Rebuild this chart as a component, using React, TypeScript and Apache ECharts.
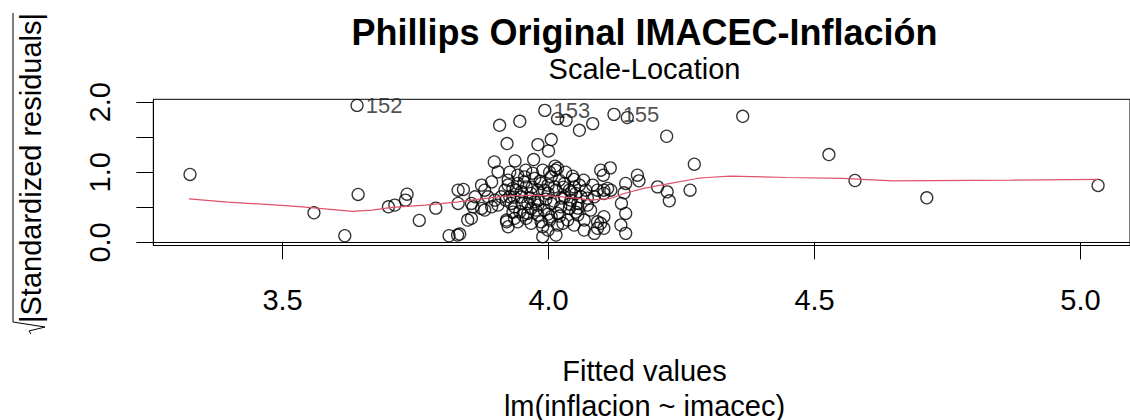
import React, { useEffect, useRef } from "react";
import * as echarts from "echarts";

const FONT = '"Liberation Sans", Arial, sans-serif';

const TITLE = "Phillips Original IMACEC-Inflación";
const SUBTITLE = "Scale-Location";
const X_TITLE = "Fitted values";
const X_SUBTITLE = "lm(inflacion ~ imacec)";
const Y_TITLE = "|Standardized residuals|";

const X_TICKS = [3.5, 4.0, 4.5, 5.0];
const Y_TICKS = [0, 0.5, 1.0, 1.5, 2.0];
const Y_LABELS = [0, 1.0, 2.0];

const FITTED = [
  3.326, 3.559, 3.642, 3.617, 3.699, 3.711, 3.734, 3.731, 3.757, 3.788, 3.813, 3.829, 3.830, 3.830,
  4.365, 4.274, 4.266, 4.527, 4.576, 4.711, 5.033,
  4.017, 4.033, 4.058, 4.083, 4.148, 4.222, 3.908, 3.946, 4.005, 3.980, 4.000, 3.922, 3.972, 3.937,
  3.898, 3.905, 4.012, 4.013, 4.098, 4.116, 4.103, 4.167, 4.170, 4.145, 4.205, 4.223, 4.227, 4.142,
  4.137, 4.145, 4.136, 4.145, 4.104, 4.066, 4.070, 4.048, 4.039, 4.073, 4.055, 4.048, 4.067, 4.086,
  4.098, 4.092, 4.104, 4.027, 4.014, 3.989, 3.989, 4.005, 3.980, 3.958, 3.924, 3.921, 3.848, 3.833,
  3.840, 3.855, 3.874, 3.880, 3.893, 3.893, 3.905, 3.874, 3.862, 3.924, 3.927, 3.933, 3.942, 3.955,
  3.974, 3.986, 3.992, 4.005, 4.011, 4.020, 4.030, 4.042, 4.023, 4.005, 3.980, 3.961, 3.949, 3.936,
  3.946, 3.967, 3.992, 4.017, 4.039, 3.936, 3.921, 3.967, 3.958, 3.918, 3.911, 3.899, 3.886, 4.092,
  4.104, 4.111, 4.117, 4.086, 4.061, 4.055, 4.079, 4.067, 4.036, 4.017, 3.999, 3.967, 3.942, 3.961,
  4.104, 4.092, 4.048, 4.030, 3.999, 3.980, 3.974, 3.949, 3.930, 4.051, 4.002, 3.986,
  3.927, 3.942, 3.957, 3.970, 3.989, 4.002, 4.017, 4.032, 4.045, 3.924, 3.939, 3.954, 3.969, 3.984,
  3.999, 4.014, 4.028, 4.043, 4.058, 3.920, 3.935, 3.950, 3.965, 3.980, 3.995, 4.010, 4.025, 4.040,
  4.055, 3.933, 3.952, 3.976, 3.999, 4.021, 4.051, 4.073, 4.083, 3.880, 3.855, 3.858,
];

const SQRT_STD_RESID = [
  0.969, 0.422, 0.684, 0.095, 0.508, 0.532, 0.688, 0.603, 0.314, 0.489, 0.095, 0.105, 0.745, 0.556,
  1.798, 1.115, 0.745, 1.253, 0.883, 0.636, 0.812,
  1.765, 1.741, 1.599, 1.694, 1.780, 1.514, 1.670, 1.727, 1.467, 1.395, 1.304, 1.410, 1.182, 1.162,
  1.148, 1.006, 1.087, 1.030, 1.030, 1.063, 0.959, 0.959, 0.878, 0.841, 0.792, 0.721, 0.593, 0.707,
  0.556, 0.414, 0.248, 0.129, 0.745, 0.888, 0.745, 0.898, 0.745, 0.532, 0.390, 0.248, 0.176, 0.129,
  0.272, 0.201, 0.201, 0.272, 0.105, 0.081, 0.223, 0.366, 0.390, 0.343, 0.223, 0.294, 0.319, 0.119,
  0.755, 0.556, 0.817, 0.745, 0.863, 0.508, 0.532, 0.485, 0.650, 0.888, 0.650, 0.770, 0.841, 0.935,
  0.912, 0.841, 0.745, 0.935, 0.792, 0.888, 0.650, 0.603, 0.508, 0.556, 0.603, 0.556, 0.650, 0.508,
  0.437, 0.485, 0.461, 0.414, 0.485, 0.343, 0.319, 0.698, 0.792, 0.745, 0.650, 0.603, 0.650, 0.745,
  0.698, 0.770, 0.745, 0.650, 0.650, 0.556, 0.461, 0.319, 0.319, 0.248, 0.176, 0.272, 0.294, 0.414,
  0.366, 0.294, 0.792, 0.841, 0.698, 0.745, 0.579, 0.721, 0.556, 0.698, 0.319, 0.294,
  1.001, 0.959, 1.030, 0.987, 1.030, 1.001, 1.058, 1.001, 0.945, 0.817, 0.745, 0.859, 0.788, 0.873,
  0.817, 0.745, 0.788, 0.717, 0.817, 0.603, 0.646, 0.560, 0.632, 0.532, 0.617, 0.589, 0.632, 0.546,
  0.489, 0.432, 0.390, 0.461, 0.404, 0.376, 0.432, 0.632, 0.817, 0.461, 0.343, 0.508,
];

const LABEL_IDS = ["152", "153", "155"];
const LABEL_FITTED = [3.640, 3.993, 4.123];
const LABEL_RESID = [1.954, 1.883, 1.826];

const SMOOTH_X = [
  3.324, 3.397, 3.491, 3.537, 3.606, 3.631, 3.668, 3.706, 3.768, 3.830, 3.855, 3.918, 3.967, 4.011,
  4.055, 4.079, 4.117, 4.142, 4.179, 4.229, 4.279, 4.298, 4.341, 4.447, 4.553, 4.647, 4.871, 5.033,
];
const SMOOTH_Y = [
  0.622, 0.575, 0.532, 0.508, 0.461, 0.442, 0.461, 0.499, 0.532, 0.579, 0.603, 0.660, 0.674, 0.660,
  0.627, 0.603, 0.627, 0.698, 0.770, 0.841, 0.912, 0.926, 0.945, 0.926, 0.912, 0.878, 0.888, 0.898,
];

const X_MIN = 3.257;
const X_MAX = 5.093;
const Y_MIN = -0.044;
const Y_MAX = 2.041;

export default function App() {
  const ref = useRef<HTMLDivElement>(null);
  useEffect(() => {
    if (!ref.current) return;
    const chart = echarts.init(ref.current, null, { renderer: "svg" });
    const points = FITTED.map((x, i) => [x, SQRT_STD_RESID[i]]);
    const labelled = LABEL_IDS.map((id, i) => ({
      value: [LABEL_FITTED[i], LABEL_RESID[i]],
      label: { show: true, formatter: id },
    }));
    const smooth = SMOOTH_X.map((x, i) => [x, SMOOTH_Y[i]]);
    const pointStyle = {
      color: "rgba(0,0,0,0)",
      borderColor: "#000",
      borderWidth: 1.3,
    };
    const textStyle = (size: number, bold = false) => ({
      fontSize: size,
      fontWeight: bold ? "bold" : "normal",
      fontFamily: FONT,
      fill: "#000",
      align: "center",
      verticalAlign: "middle",
    });
    chart.setOption({
      animation: false,
      backgroundColor: "#fff",
      textStyle: { fontFamily: FONT },
      grid: {
        left: 153.3,
        top: 99.3,
        width: 982.4,
        height: 146.2,
        show: true,
        borderColor: "#000",
        borderWidth: 1,
        backgroundColor: "transparent",
      },
      xAxis: {
        type: "value",
        min: X_MIN,
        max: X_MAX,
        splitLine: { show: false },
        axisLine: { show: true, lineStyle: { color: "#000", width: 1 } },
        axisTick: {
          show: true,
          inside: false,
          length: 17,
          customValues: X_TICKS,
          lineStyle: { color: "#000", width: 1 },
        },
        axisLabel: {
          customValues: X_TICKS,
          formatter: (v: number) => v.toFixed(1),
          margin: 54,
          verticalAlign: "middle",
          fontSize: 29,
          color: "#000",
          fontFamily: FONT,
        },
      },
      yAxis: {
        type: "value",
        min: Y_MIN,
        max: Y_MAX,
        splitLine: { show: false },
        axisLine: { show: true, lineStyle: { color: "#000", width: 1 } },
        axisTick: {
          show: true,
          inside: false,
          length: 17,
          customValues: Y_TICKS,
          lineStyle: { color: "#000", width: 1 },
        },
        axisLabel: {
          customValues: Y_LABELS,
          formatter: (v: number) => v.toFixed(1),
          margin: 53,
          rotate: 90,
          align: "center",
          verticalAlign: "middle",
          fontSize: 29,
          color: "#000",
          fontFamily: FONT,
        },
      },
      graphic: [
        { type: "text", x: 644.5, y: 32, style: { text: TITLE, ...textStyle(36, true) } },
        { type: "text", x: 644.5, y: 69, style: { text: SUBTITLE, ...textStyle(29) } },
        { type: "text", x: 644.5, y: 371, style: { text: X_TITLE, ...textStyle(29) } },
        { type: "text", x: 644.5, y: 405.5, style: { text: X_SUBTITLE, ...textStyle(29) } },
        {
          type: "text",
          x: 31,
          y: 168,
          rotation: Math.PI / 2,
          style: { text: Y_TITLE, ...textStyle(29) },
        },
        {
          type: "polyline",
          shape: {
            points: [
              [13, 13],
              [13, 322],
              [45, 327],
              [29, 331],
              [31, 334],
            ],
          },
          style: { stroke: "#000", lineWidth: 1, fill: null },
        },
      ],
      series: [
        {
          type: "scatter",
          data: points,
          symbol: "circle",
          symbolSize: 12,
          itemStyle: pointStyle,
          emphasis: { disabled: true },
          z: 2,
        },
        {
          type: "scatter",
          data: labelled,
          symbol: "circle",
          symbolSize: 12,
          itemStyle: pointStyle,
          label: {
            position: "right",
            distance: 2,
            fontSize: 22,
            color: "#222",
            fontFamily: FONT,
          },
          emphasis: { disabled: true },
          z: 2,
        },
        {
          type: "line",
          data: smooth,
          showSymbol: false,
          symbol: "none",
          lineStyle: { color: "#DF536B", width: 1.2 },
          emphasis: { disabled: true },
          z: 3,
        },
      ],
    });
    return () => chart.dispose();
  }, []);
  return (
    <div
      ref={ref}
      style={{ position: "absolute", left: 0, top: 0, width: 1130, height: 420, background: "#fff" }}
    />
  );
}
